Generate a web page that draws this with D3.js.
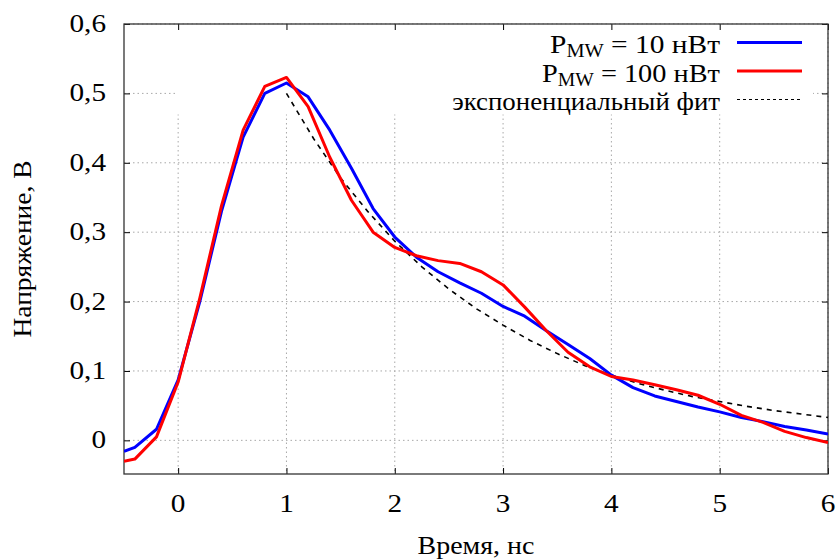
<!DOCTYPE html>
<html>
<head>
<meta charset="utf-8">
<script src="https://cdnjs.cloudflare.com/ajax/libs/d3/7.8.5/d3.min.js"></script>
<style>
  body { margin: 0; background: #fff; }
</style>
</head>
<body>
<div id="chart"></div>
<script>
// time axis (ns) and the two measured pulses
var timeNs = [-0.5, -0.4, -0.2, 0, 0.2, 0.4, 0.6, 0.8, 1.0, 1.2, 1.4, 1.6, 1.8, 2.0,
  2.2, 2.4, 2.6, 2.8, 3.0, 3.2, 3.4, 3.6, 3.8, 4.0, 4.2, 4.4, 4.6, 4.8, 5.0,
  5.2, 5.4, 5.6, 5.8, 6.0];

var pulse10 = [-0.016, -0.010, 0.016, 0.087, 0.200, 0.330, 0.437, 0.500, 0.515, 0.495,
  0.447, 0.392, 0.334, 0.293, 0.264, 0.243, 0.227, 0.212, 0.193, 0.179, 0.158,
  0.138, 0.118, 0.094, 0.076, 0.064, 0.056, 0.048, 0.041, 0.033, 0.027, 0.020,
  0.015, 0.009];

var pulse100 = [-0.030, -0.027, 0.005, 0.084, 0.205, 0.338, 0.447, 0.510, 0.523, 0.481,
  0.408, 0.346, 0.300, 0.278, 0.266, 0.259, 0.255, 0.243, 0.224, 0.192, 0.158,
  0.127, 0.106, 0.092, 0.087, 0.080, 0.073, 0.065, 0.052, 0.036, 0.026, 0.013,
  0.004, -0.003];

// exponential fit
var fitTime = [1.0, 1.25, 1.5, 1.75, 2.0, 2.25, 2.5, 2.75, 3.0, 3.25, 3.5, 3.75, 4.0,
  4.25, 4.5, 4.75, 5.0, 5.25, 5.5, 5.75, 6.0];
var fitValue = [0.500, 0.435, 0.378, 0.330, 0.287, 0.250, 0.218, 0.190, 0.166, 0.144,
  0.125, 0.108, 0.094, 0.082, 0.072, 0.063, 0.056, 0.049, 0.043, 0.038, 0.033];

var xTicks = [0, 1, 2, 3, 4, 5, 6];
var yTicks = [0, 0.1, 0.2, 0.3, 0.4, 0.5, 0.6];

var legendLabels = [
  { main: "P", sub: "MW", rest: " = 10 нВт", color: "#0000ff", dash: null, span: 170 },
  { main: "P", sub: "MW", rest: " = 100 нВт", color: "#ff0000", dash: null, span: 178 },
  { main: "экспоненциальный фит", sub: null, rest: "", color: "#000", dash: "3,3", span: 268 }
];

var tickStretch = 1.17;

var svgWidth = 839;
var svgHeight = 560;
var margin = { top: 24, right: 11, bottom: 86, left: 124 };
var width = svgWidth - margin.left - margin.right;
var height = svgHeight - margin.top - margin.bottom;

var svg = d3.select("#chart")
  .append("svg")
  .attr("width", svgWidth)
  .attr("height", svgHeight);

var chartGroup = svg.append("g")
  .attr("transform", `translate(${margin.left}, ${margin.top})`);

var xScale = d3.scaleLinear().domain([-0.5, 6]).range([0, width]);
var yScale = d3.scaleLinear().domain([-0.0485, 0.6]).range([height, 0]);

// add a text in the Times-like serif
function serifText(parent, size) {
  return parent.append("text")
    .style("font-family", "'Liberation Serif'")
    .style("font-size", size + "px")
    .style("fill", "#000");
}

// squeeze/stretch a text horizontally about its anchor so it spans `target` px
function stretchTo(sel, x, y, target) {
  var w = sel.node().getComputedTextLength();
  var sx = target ? target / w : tickStretch;
  sel.attr("x", 0).attr("y", 0)
    .attr("transform", `translate(${x}, ${y}) scale(${sx}, 1)`);
}

// dotted grid
chartGroup.append("g")
  .selectAll("line")
  .data(xTicks)
  .enter()
  .append("line")
  .attr("x1", d => xScale(d)).attr("x2", d => xScale(d))
  .attr("y1", 0).attr("y2", height)
  .attr("stroke", "#a8a8a8")
  .attr("stroke-dasharray", "1.5,3");

chartGroup.append("g")
  .selectAll("line")
  .data(yTicks)
  .enter()
  .append("line")
  .attr("x1", 0).attr("x2", width)
  .attr("y1", d => yScale(d)).attr("y2", d => yScale(d))
  .attr("stroke", "#a8a8a8")
  .attr("stroke-dasharray", "1.5,3");

// opaque key box sits on top of the grid
chartGroup.append("rect")
  .attr("x", 52).attr("y", 0.5)
  .attr("width", 637).attr("height", 90)
  .attr("fill", "#fff");

// axes, ticks inward and mirrored
var fmt = d => d === 0 ? "0" : d3.format(".1f")(d).replace(".", ",");

var bottomAxis = d3.axisBottom(xScale).tickValues(xTicks).tickSize(-6).tickFormat("");
var topAxis = d3.axisTop(xScale).tickValues(xTicks).tickSize(-6).tickFormat("");
var leftAxis = d3.axisLeft(yScale).tickValues(yTicks).tickSize(-6).tickFormat("");
var rightAxis = d3.axisRight(yScale).tickValues(yTicks).tickSize(-6).tickFormat("");

function styleAxis(g) {
  g.select(".domain").remove();
  g.selectAll(".tick line").attr("stroke", "#000");
}

chartGroup.append("g").attr("transform", `translate(0, ${height})`)
  .call(bottomAxis).call(styleAxis);
chartGroup.append("g").call(topAxis).call(styleAxis);
chartGroup.append("g").call(leftAxis).call(styleAxis);
chartGroup.append("g").attr("transform", `translate(${width}, 0)`)
  .call(rightAxis).call(styleAxis);

// tick labels
var xLabels = chartGroup.append("g");
xTicks.forEach(function(d) {
  var t = serifText(xLabels, 25).attr("text-anchor", "middle").text(d);
  stretchTo(t, xScale(d), height + 38, null);
});

var yLabels = chartGroup.append("g");
yTicks.forEach(function(d) {
  var t = serifText(yLabels, 25).attr("text-anchor", "end").text(fmt(d));
  stretchTo(t, -18, yScale(d) + 8, null);
});

// plot border
chartGroup.append("rect")
  .attr("x", 0).attr("y", 0)
  .attr("width", width).attr("height", height)
  .attr("fill", "none")
  .attr("stroke", "#333")
  .attr("stroke-width", 1.3);

// curves
chartGroup.append("clipPath").attr("id", "plotClip")
  .append("rect").attr("width", width).attr("height", height);

var line = d3.line()
  .x(d => xScale(d[0]))
  .y(d => yScale(d[1]));

var plotGroup = chartGroup.append("g").attr("clip-path", "url(#plotClip)");

plotGroup.append("path")
  .datum(fitTime.map((t, i) => [t, fitValue[i]]))
  .attr("d", line)
  .attr("fill", "none")
  .attr("stroke", "#000")
  .attr("stroke-width", 1.6)
  .attr("stroke-dasharray", "5,5");

plotGroup.append("path")
  .datum(timeNs.map((t, i) => [t, pulse10[i]]))
  .attr("d", line)
  .attr("fill", "none")
  .attr("stroke", "#0000ff")
  .attr("stroke-width", 3)
  .attr("stroke-linejoin", "round");

plotGroup.append("path")
  .datum(timeNs.map((t, i) => [t, pulse100[i]]))
  .attr("d", line)
  .attr("fill", "none")
  .attr("stroke", "#ff0000")
  .attr("stroke-width", 3)
  .attr("stroke-linejoin", "round");

// legend
var legend = svg.append("g");
legendLabels.forEach(function(item, i) {
  var baseY = 53 + i * 28.5;
  var txt = serifText(legend, 26).attr("text-anchor", "end");
  txt.append("tspan").text(item.main);
  if (item.sub) {
    txt.append("tspan").style("font-size", "18px").attr("dy", 4).text(item.sub);
    txt.append("tspan").attr("dy", -4).text(item.rest);
  }
  stretchTo(txt, 720, baseY, item.span);
  legend.append("line")
    .attr("x1", 737).attr("x2", 802)
    .attr("y1", baseY - 10.5).attr("y2", baseY - 10.5)
    .attr("stroke", item.color)
    .attr("stroke-width", item.dash ? 1 : 3)
    .attr("stroke-dasharray", item.dash);
});

// axis titles
var xTitle = serifText(svg, 26).attr("text-anchor", "middle").text("Время, нс");
stretchTo(xTitle, margin.left + width / 2, 554, 117);

var yTitle = serifText(svg, 26).attr("text-anchor", "middle").text("Напряжение, В");
var yw = yTitle.node().getComputedTextLength();
yTitle.attr("transform",
  `translate(31, ${margin.top + height / 2}) rotate(-90) scale(${177 / yw}, 1)`);
</script>
</body>
</html>
